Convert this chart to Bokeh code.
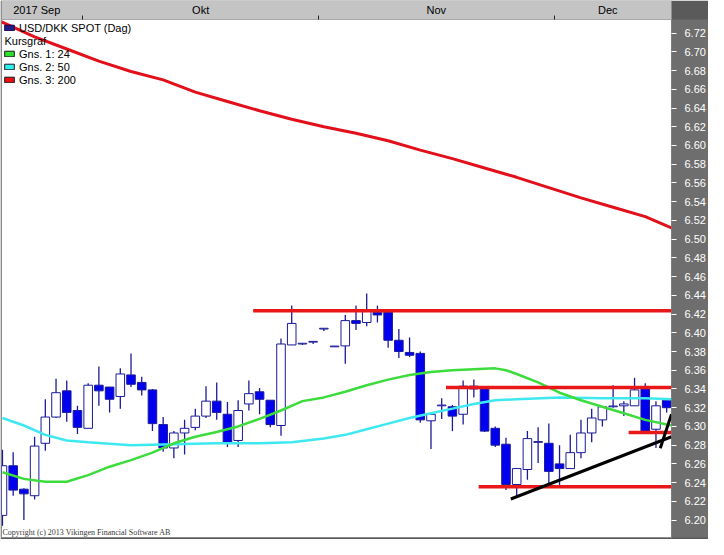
import numpy as np
from bokeh.plotting import figure
from bokeh.models import (ColumnDataSource, Range1d, LinearAxis, FixedTicker,
                          NumeralTickFormatter, Legend, LegendItem, Label)
from bokeh.embed import file_html
from bokeh.resources import INLINE

# ---------------- data ----------------
idx = list(range(63))
opens = [6.205, 6.258, 6.233, 6.226, 6.282, 6.310, 6.338, 6.317, 6.298, 6.344,
         6.342, 6.332, 6.355, 6.347, 6.339, 6.302, 6.277, 6.293, 6.299, 6.311,
         6.327, 6.313, 6.285, 6.324, 6.337, 6.328, 6.301, 6.387, 6.388, 6.390,
         6.404, 6.385, 6.386, 6.413, 6.411, 6.422, 6.422, 6.392, 6.379, 6.378,
         6.306, 6.322, 6.321, 6.313, 6.340, 6.341, 6.298, 6.281, 6.238, 6.254,
         6.283, 6.282, 6.260, 6.255, 6.272, 6.293, 6.307, 6.321, 6.322, 6.322,
         6.341, 6.297, 6.328]
highs = [6.275, 6.2725, 6.234, 6.289, 6.329, 6.351, 6.349, 6.322, 6.346, 6.364,
         6.342, 6.362, 6.378, 6.353, 6.340, 6.310, 6.295, 6.307, 6.319, 6.343,
         6.347, 6.326, 6.328, 6.349, 6.341, 6.328, 6.394, 6.429, 6.389, 6.391,
         6.405, 6.386, 6.419, 6.429, 6.442, 6.429, 6.425, 6.404, 6.395, 6.380,
         6.313, 6.330, 6.323, 6.349, 6.350, 6.342, 6.300, 6.288, 6.255, 6.295,
         6.299, 6.303, 6.280, 6.291, 6.307, 6.319, 6.321, 6.344, 6.327, 6.352,
         6.346, 6.327, 6.328]
lows = [6.194, 6.226, 6.200, 6.222, 6.274, 6.309, 6.305, 6.292, 6.298, 6.322,
        6.315, 6.319, 6.342, 6.333, 6.295, 6.273, 6.266, 6.270, 6.296, 6.309,
        6.307, 6.278, 6.278, 6.317, 6.313, 6.299, 6.290, 6.387, 6.387, 6.388,
        6.402, 6.385, 6.367, 6.403, 6.407, 6.411, 6.384, 6.373, 6.374, 6.304,
        6.276, 6.308, 6.295, 6.302, 6.331, 6.294, 6.278, 6.232, 6.225, 6.243,
        6.261, 6.237, 6.235, 6.255, 6.266, 6.283, 6.300, 6.320, 6.311, 6.322,
        6.294, 6.277, 6.315]
closes = [6.258, 6.232, 6.228, 6.279, 6.310, 6.336, 6.315, 6.299, 6.344, 6.338,
          6.329, 6.356, 6.345, 6.339, 6.303, 6.277, 6.293, 6.298, 6.311, 6.327,
          6.315, 6.283, 6.317, 6.335, 6.329, 6.302, 6.388, 6.410, 6.388, 6.390,
          6.404, 6.385, 6.413, 6.410, 6.424, 6.419, 6.392, 6.380, 6.376, 6.307,
          6.313, 6.322, 6.311, 6.343, 6.343, 6.295, 6.280, 6.238, 6.255, 6.287,
          6.283, 6.252, 6.255, 6.272, 6.293, 6.309, 6.321, 6.321, 6.324, 6.339,
          6.295, 6.322, 6.320]

ma24_x = [0, 2, 4, 6, 8, 10, 12, 14, 16, 18, 20, 22, 24, 26, 28, 30, 32, 34,
          36, 38, 40, 42, 44, 46, 47, 48, 50, 52, 54, 56, 58, 60, 62.45]
ma24 = [6.251, 6.244, 6.241, 6.241, 6.248, 6.257, 6.264, 6.272, 6.282, 6.289,
        6.294, 6.300, 6.308, 6.317, 6.327, 6.331, 6.337, 6.344, 6.350, 6.355,
        6.358, 6.360, 6.361, 6.362, 6.360, 6.356, 6.347, 6.336, 6.328, 6.321,
        6.314, 6.307, 6.301]

ma50_x = [0, 2, 4, 6, 8, 12, 16, 20, 24, 27, 30, 32, 34, 36, 38, 40, 42, 44,
          46, 48, 52, 56, 60, 62.45]
ma50 = [6.309, 6.301, 6.291, 6.285, 6.283, 6.280, 6.281, 6.282, 6.282, 6.283,
        6.287, 6.291, 6.297, 6.303, 6.309, 6.314, 6.319, 6.324, 6.328, 6.329,
        6.331, 6.330, 6.330, 6.329]

ma200_x = [-0.09, 3, 6, 9, 12, 15, 18, 21, 24, 27, 30, 33, 36, 39, 42, 45, 48,
           51, 54, 57, 60, 62.45]
ma200 = [6.732, 6.716, 6.703, 6.690, 6.679, 6.670, 6.657, 6.647, 6.637, 6.628,
         6.620, 6.613, 6.605, 6.595, 6.586, 6.576, 6.566, 6.555, 6.544, 6.534,
         6.524, 6.512]

sr_level = [6.4235, 6.3415, 6.2935, 6.2355]
sr_start = [23.4, 41.4, 58.45, 44.45]
sr_end = [62.45, 62.45, 62.45, 62.45]

trend_x0 = [47.45, 61.4]
trend_y0 = [6.2225, 6.2767]
trend_x1 = [62.45, 62.45]
trend_y1 = [6.289, 6.313]

month_labels = ["2017 Sep", "Okt", "Nov", "Dec"]
month_centers = [3.2, 18.5, 40.5, 56.5]
month_bounds = [7.5, 29.5, 51.5]

y_ticks = [6.20, 6.22, 6.24, 6.26, 6.28, 6.30, 6.32, 6.34, 6.36, 6.38, 6.40,
           6.42, 6.44, 6.46, 6.48, 6.50, 6.52, 6.54, 6.56, 6.58, 6.60, 6.62,
           6.64, 6.66, 6.68, 6.70, 6.72]

legend_labels = ["USD/DKK SPOT (Dag)", " ", "Gns. 1: 24", "Gns. 2: 50", "Gns. 3: 200"]

# ---------------- styles ----------------
UP_FILL = "white"
DOWN_FILL = "#0000ee"
CANDLE_LINE = "#1a1a9a"
FONT = "Liberation Sans"

tops = [max(o, c) for o, c in zip(opens, closes)]
bottoms = [min(o, c) for o, c in zip(opens, closes)]
tops = [max(t, b + 0.0008) for t, b in zip(tops, bottoms)]
fills = [UP_FILL if c >= o else DOWN_FILL for o, c in zip(opens, closes)]

src = ColumnDataSource(dict(x=idx, h=highs, l=lows, top=tops, bottom=bottoms,
                            fill=fills))

p = figure(width=708, height=539,
           x_range=Range1d(-0.09, 62.45), y_range=Range1d(6.1814, 6.7345),
           output_backend="svg", toolbar_location=None,
           x_axis_location=None, y_axis_location=None,
           min_border_left=1, min_border_right=0, min_border_top=0,
           min_border_bottom=2,
           background_fill_color="white", border_fill_color="#5a5a5a",
           outline_line_color="#8a8a8a")
p.grid.visible = False

# right price axis
yax = LinearAxis(ticker=FixedTicker(ticks=y_ticks),
                 formatter=NumeralTickFormatter(format="0.00"),
                 axis_line_color=None,
                 major_tick_line_color="white", major_tick_in=0, major_tick_out=5,
                 minor_tick_line_color=None,
                 major_label_text_color="white",
                 major_label_text_font=FONT,
                 major_label_text_font_size="11px",
                 major_label_standoff=8,
                 background_fill_color="#6e6e6e")
p.add_layout(yax, "right")

# top month header
xax = LinearAxis(ticker=FixedTicker(ticks=month_centers, minor_ticks=month_bounds),
                 major_label_overrides={c: l for c, l in zip(month_centers, month_labels)},
                 axis_line_color=None,
                 major_tick_line_color=None, major_tick_in=0, major_tick_out=0,
                 minor_tick_line_color="#202020", minor_tick_in=0, minor_tick_out=4,
                 major_label_text_font=FONT,
                 major_label_text_font_size="11px",
                 major_label_text_color="black",
                 major_label_standoff=0,
                 background_fill_color="#c4c4c4")
p.add_layout(xax, "above")

# candles
p.segment(x0="x", y0="h", x1="x", y1="l", source=src,
          line_color=CANDLE_LINE, line_width=1.3)
p.vbar(x="x", width=0.8, top="top", bottom="bottom", source=src,
       fill_color="fill", line_color=CANDLE_LINE, line_width=1)

# moving averages
p.line(ma50_x, ma50, line_color="#3ee8f0", line_width=2.5)
p.line(ma24_x, ma24, line_color="#3cdc3c", line_width=2.5)
p.line(ma200_x, ma200, line_color="#e2101a", line_width=3)

# support / resistance lines
p.segment(x0=sr_start, y0=sr_level, x1=sr_end, y1=sr_level,
          line_color="#e81818", line_width=3.5)
# trend lines
p.segment(x0=trend_x0, y0=trend_y0, x1=trend_x1, y1=trend_y1,
          line_color="black", line_width=3)

# legend swatches: renderers without visible data
nan1 = np.array([np.nan])
def swatch(**kw):
    return p.quad(left=nan1, right=nan1, top=nan1, bottom=nan1, **kw)

r_usd = swatch(fill_color="#1e1e8c", line_color="#200040")
r_blank = swatch(fill_alpha=0, line_alpha=0)
r_g = swatch(fill_color="#2ee02e", line_color="#1a1a1a")
r_c = swatch(fill_color="#2ef0f0", line_color="#1a1a1a")
r_r = swatch(fill_color="#e81010", line_color="#1a1a1a")

legend = Legend(items=[LegendItem(label=t, renderers=[r])
                       for t, r in zip(legend_labels, [r_usd, r_blank, r_g, r_c, r_r])],
                location="top_left", margin=0, padding=2, spacing=0,
                glyph_width=12, glyph_height=7, label_height=13,
                label_standoff=4, label_text_font=FONT,
                label_text_font_size="11px", label_text_color="black",
                background_fill_alpha=0, border_line_alpha=0)
p.add_layout(legend)

p.add_layout(Label(x=3, y=497, x_units="screen", y_units="screen",
                   text="Kursgraf", text_font=FONT, text_font_size="11px",
                   text_color="black", text_baseline="middle"))

p.add_layout(Label(x=1, y=1, x_units="screen", y_units="screen",
                   text="Copyright (c) 2013 Vikingen Financial Software AB",
                   text_font="Liberation Serif", text_font_size="8px",
                   text_color="#3a3a3a", text_baseline="bottom"))

open("out.html", "w").write(file_html(p, INLINE))
